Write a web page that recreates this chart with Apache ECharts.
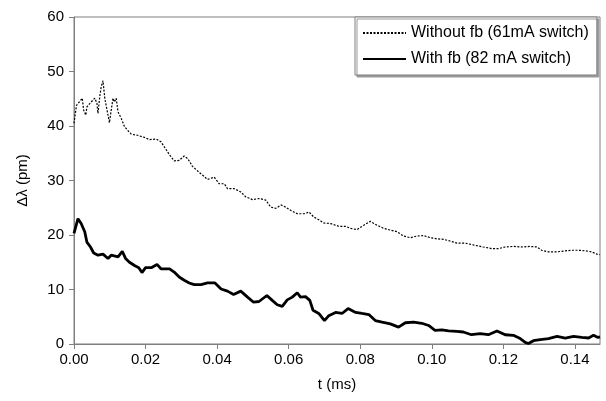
<!DOCTYPE html>
<html>
<head>
<meta charset="utf-8">
<script src="https://cdn.jsdelivr.net/npm/echarts@6/dist/echarts.min.js"></script>
<style>html,body{margin:0;padding:0;background:#fff}#c{width:606px;height:401px}</style>
</head>
<body>
<div id="c"></div>
<script>
const seriesNames = ['Without fb (61mA switch)', 'With fb (82 mA switch)'];
const yTicks = [0, 10, 20, 30, 40, 50, 60];
const xTicks = ['0.00','0.02','0.04','0.06','0.08','0.10','0.12','0.14'];

const tWithout = [0,0.0007,0.0016,0.0023,0.0027,0.0033,0.0036,0.0048,0.0058,0.0064,0.0067,0.0072,0.0076,0.0081,0.0086,0.009,0.0095,0.0099,0.0104,0.0109,0.0113,0.0118,0.0123,0.0132,0.0141,0.015,0.016,0.0178,0.0197,0.0211,0.023,0.0243,0.0255,0.0267,0.028,0.0294,0.0308,0.0318,0.0331,0.0348,0.0359,0.0373,0.0392,0.0406,0.042,0.0429,0.0448,0.0466,0.048,0.0499,0.0517,0.0536,0.055,0.0564,0.0579,0.0592,0.0606,0.0624,0.0643,0.0657,0.067,0.0684,0.0698,0.0717,0.074,0.0759,0.0773,0.0791,0.081,0.0828,0.0847,0.0866,0.0884,0.0903,0.0921,0.094,0.0958,0.0977,0.0996,0.1014,0.1033,0.1051,0.107,0.1093,0.1121,0.1144,0.1168,0.1186,0.1205,0.1228,0.1252,0.1275,0.1294,0.1307,0.1326,0.135,0.1373,0.1391,0.141,0.1429,0.1447,0.1461,0.147];
const vWithout = [40.5,43.8,44.5,45.1,42.9,42,43.5,44.4,45.1,44.2,42.3,45.4,47.2,48.3,45.1,44.8,42,40.6,42.9,45.1,44.4,45.1,42.6,41.4,39.9,39.2,38.5,38.3,37.9,37.5,37.6,37.1,35.9,34.7,33.6,33.7,34.5,34,32.6,31.6,31,30.2,30.6,29.4,29.4,28.5,28.5,27.9,27,26.5,26.7,26.4,25.1,24.9,25.5,25.1,24.5,23.9,23.9,24.2,23.3,22.8,22.2,22.1,21.6,21.6,21.2,21,21.8,22.5,21.8,21.2,20.9,20.6,19.8,19.5,19.8,19.9,19.5,19.3,19.2,18.9,18.5,18.5,18.1,17.8,17.5,17.5,17.8,17.9,17.8,17.9,17.8,17.2,16.9,16.9,17.1,17.2,17.2,17.1,16.9,16.5,16.4];

const tWith = [0,0.0011,0.002,0.003,0.0036,0.0046,0.0055,0.0067,0.0081,0.0095,0.0104,0.0123,0.0135,0.0144,0.0155,0.0169,0.0181,0.019,0.02,0.0216,0.0232,0.0243,0.0267,0.028,0.0294,0.0308,0.0322,0.0336,0.0355,0.0373,0.0394,0.0411,0.0429,0.0446,0.0466,0.0485,0.0501,0.0517,0.0539,0.0554,0.0568,0.0582,0.0596,0.061,0.0624,0.0633,0.0647,0.0659,0.0668,0.0684,0.07,0.0712,0.0731,0.0749,0.0766,0.0787,0.0805,0.0824,0.0842,0.0861,0.0884,0.0907,0.0926,0.0949,0.0972,0.0991,0.1009,0.1028,0.1047,0.107,0.1088,0.1111,0.1135,0.1158,0.1182,0.1205,0.1228,0.1247,0.1261,0.127,0.1284,0.1303,0.1326,0.135,0.1373,0.1396,0.1419,0.1438,0.1452,0.1464,0.147];
const vWith = [20.3,23,22.1,20.6,18.7,17.8,16.7,16.3,16.5,15.7,16.3,16,17,15.7,15,14.4,14,13.1,14,14,14.6,13.8,13.8,13.2,12.3,11.7,11.2,10.9,10.9,11.2,11.2,10.1,9.7,9.1,9.7,8.6,7.7,7.8,8.9,8,7.2,6.9,8.1,8.6,9.4,8.6,8.7,8,6.2,5.6,4.3,5.2,5.8,5.6,6.5,5.8,5.6,5.4,4.3,4,3.7,3.1,3.9,4,3.8,3.4,2.5,2.6,2.4,2.3,2.2,1.7,1.9,1.7,2.4,1.7,1.6,1,0.3,0.1,0.6,0.8,1,1.4,1.1,1.4,1.2,1.1,1.6,1.2,1.3];

const font = 'Liberation Sans, Arial, sans-serif';
const axisGrey = '#7f7f7f';
const chart = echarts.init(document.getElementById('c'), null, {renderer: 'canvas'});
chart.setOption({
  animation: false,
  backgroundColor: '#fff',
  textStyle: {fontFamily: font, color: '#000'},
  grid: {left: 74, right: 6, top: 17, bottom: 57, show: true, borderColor: axisGrey, borderWidth: 1, backgroundColor: '#fff'},
  legend: {
    left: 355, top: 17, orient: 'vertical',
    itemWidth: 43, itemHeight: 14, itemGap: 10,
    padding: [8, 8, 8, 7],
    backgroundColor: '#fff', borderColor: axisGrey, borderWidth: 1,
    shadowColor: '#9a9a9a', shadowOffsetX: 2, shadowOffsetY: 2, shadowBlur: 0,
    itemStyle: {opacity: 0},
    textStyle: {fontFamily: font, fontSize: 16, color: '#000'},
    data: seriesNames
  },
  xAxis: {
    type: 'value', min: 0, max: 0.147, interval: 0.02,
    name: 't (ms)', nameLocation: 'middle', nameGap: 33,
    nameTextStyle: {fontFamily: font, fontSize: 15, color: '#000'},
    axisLine: {show: true, lineStyle: {color: axisGrey, width: 1}},
    axisTick: {show: true, inside: false, length: 5, lineStyle: {color: axisGrey}},
    splitLine: {show: false},
    axisLabel: {
      fontFamily: font, fontSize: 15, color: '#000', margin: 8, showMaxLabel: false,
      formatter: function (v) {
        const k = Math.round(v / 0.02);
        return Math.abs(v / 0.02 - k) < 1e-6 && k < xTicks.length ? xTicks[k] : '';
      }
    }
  },
  yAxis: {
    type: 'value', min: yTicks[0], max: yTicks[yTicks.length - 1], interval: 10,
    name: 'Δλ (pm)', nameLocation: 'middle', nameGap: 44, nameRotate: 90,
    nameTextStyle: {fontFamily: font, fontSize: 15, color: '#000'},
    axisLine: {show: true, lineStyle: {color: axisGrey, width: 1}},
    axisTick: {show: true, inside: false, length: 5, lineStyle: {color: axisGrey}},
    splitLine: {show: false},
    axisLabel: {fontFamily: font, fontSize: 15, color: '#000', margin: 10}
  },
  series: [
    {
      name: seriesNames[0], type: 'line', symbol: 'none', smooth: false,
      data: tWithout.map((t, i) => [t, vWithout[i]]),
      lineStyle: {color: '#000', width: 1.2, type: [2, 1.5]},
      itemStyle: {color: '#000'}, z: 3
    },
    {
      name: seriesNames[1], type: 'line', symbol: 'none', smooth: false,
      data: tWith.map((t, i) => [t, vWith[i]]),
      lineStyle: {color: '#000', width: 2.8},
      itemStyle: {color: '#000'}, z: 4
    }
  ]
});
</script>
</body>
</html>
